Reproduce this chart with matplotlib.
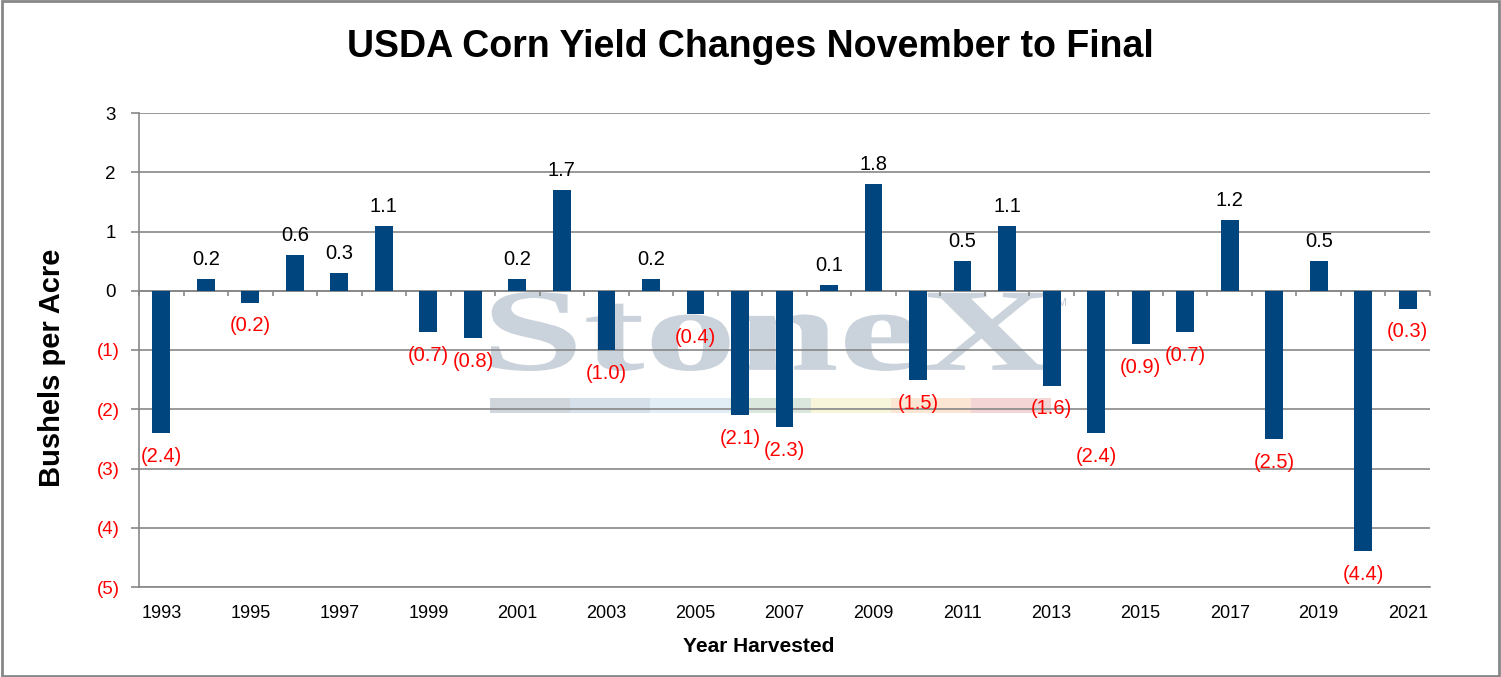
import matplotlib
matplotlib.use("Agg")
import matplotlib.pyplot as plt
import numpy as np
from matplotlib.font_manager import FontProperties
from matplotlib.patches import PathPatch, Rectangle
from matplotlib.textpath import TextPath
from matplotlib.transforms import Affine2D, ScaledTranslation

plt.rcParams["font.family"] = ["Liberation Sans", "DejaVu Sans"]

YEARS = list(range(1993, 2022))
CHANGES = [-2.4, 0.2, -0.2, 0.6, 0.3, 1.1, -0.7, -0.8, 0.2, 1.7,
           -1.0, 0.2, -0.4, -2.1, -2.3, 0.1, 1.8, -1.5, 0.5, 1.1,
           -1.6, -2.4, -0.9, -0.7, 1.2, -2.5, 0.5, -4.4, -0.3]
Y_TICKS = [-5, -4, -3, -2, -1, 0, 1, 2, 3]

BAR = "#00457E"
GRID = "#878787"
NEG = "#FF0000"
MARK = "#CAD2DB"
STRIP = ["#D0D6DC", "#D6E0EA", "#E2EEF6", "#DAE7DC", "#F7F5DA", "#FAE6D3", "#F3D5D5"]

W, H = 1501, 677
AX_L, AX_R, AX_T, AX_B = 139, 1430, 113, 587


def paren(v, fmt):
    return f"({fmt.format(abs(v))})" if v < 0 else fmt.format(v)


def ax_frac(px, py):
    return (px - AX_L) / (AX_R - AX_L), (AX_B - py) / (AX_B - AX_T)


fig = plt.figure(figsize=(W / 100, H / 100), dpi=100)
ax = fig.add_axes([AX_L / W, 1 - AX_B / H, (AX_R - AX_L) / W, (AX_B - AX_T) / H])

x = np.arange(len(YEARS))
ax.bar(x, CHANGES, width=0.4, color=BAR, zorder=3)

ax.set_xlim(-0.5, len(YEARS) - 0.5)
ax.set_ylim(-5, 3)
ax.set_yticks(Y_TICKS)
ax.set_yticklabels([paren(v, "{:d}") for v in Y_TICKS], fontsize=13.5)
ax.yaxis.grid(True, color=GRID, linewidth=1.2, zorder=1)
ax.set_axisbelow(True)
ax.tick_params(axis="y", length=6, width=1.2, color=GRID, pad=8)
# excel-style "_)" alignment: positive labels leave room for the closing paren
shift = ScaledTranslation(-4 / 100, 0, fig.dpi_scale_trans)
for tick, v in zip(ax.yaxis.get_major_ticks(), Y_TICKS):
    tick.label1.set_color(NEG if v < 0 else "black")
    if v >= 0:
        tick.label1.set_transform(tick.label1.get_transform() + shift)

ax.set_xticks(x[::2])
ax.set_xticklabels([str(y) for y in YEARS[::2]], fontsize=13)
ax.tick_params(axis="x", length=0, pad=13)

for side in ("top", "right"):
    ax.spines[side].set_visible(False)
for side in ("left", "bottom"):
    ax.spines[side].set_color(GRID)
    ax.spines[side].set_linewidth(1.2)

# zero line with category tick marks
ax.axhline(0, color=GRID, linewidth=1.2, zorder=2)
bounds = np.arange(len(YEARS) + 1) - 0.5
ax.vlines(bounds, -0.09, 0, color=GRID, linewidth=1.2, zorder=2, clip_on=False)

# data labels
for xi, v in zip(x, CHANGES):
    if v >= 0:
        ax.annotate(paren(v, "{:.1f}"), (xi, v), xytext=(0, 7), textcoords="offset points",
                    ha="center", va="bottom", fontsize=14.5, color="black", zorder=4)
    else:
        ax.annotate(paren(v, "{:.1f}"), (xi, v), xytext=(0, -10), textcoords="offset points",
                    ha="center", va="top", fontsize=14.5, color=NEG, zorder=4)

# StoneX watermark (wide serif, stretched to fit its box)
tp = TextPath((0, 0), "StoneX", size=1, prop=FontProperties(family="Liberation Serif", weight="bold"))
ext = tp.get_extents()
(x0, y0), (x1, y1) = ax_frac(491, 371), ax_frac(1051, 292)
tr = (Affine2D().translate(-ext.x0, -ext.y0)
      .scale((x1 - x0) / ext.width, (y1 - y0) / ext.height)
      .translate(x0, y0) + ax.transAxes)
ax.add_patch(PathPatch(tp, transform=tr, facecolor=MARK, edgecolor="none", zorder=0))
tx, ty = ax_frac(1052, 303)
ax.text(tx, ty, "TM", transform=ax.transAxes, ha="left", va="center", fontsize=8,
        color="#BFC8D2", zorder=0)
(sx0, sy0), (sx1, sy1) = ax_frac(490, 413), ax_frac(1051, 398)
seg_w = (sx1 - sx0) / len(STRIP)
for i, c in enumerate(STRIP):
    ax.add_patch(Rectangle((sx0 + i * seg_w, sy0), seg_w, sy1 - sy0, transform=ax.transAxes,
                           facecolor=c, edgecolor="none", zorder=0))

fig.text(0.5, 1 - 47 / H, "USDA Corn Yield Changes November to Final", ha="center", va="center",
         fontsize=27, fontweight="bold")
fig.text(52 / W, 1 - 368 / H, "Bushels per Acre", ha="center", va="center", rotation=90,
         fontsize=21, fontweight="bold")
fig.text(759 / W, 1 - 647 / H, "Year Harvested", ha="center", va="center",
         fontsize=15, fontweight="bold")

fig.add_artist(Rectangle((0.001, 0.0015), 0.998, 0.997, transform=fig.transFigure,
                         facecolor="none", edgecolor=GRID, linewidth=2))

fig.savefig("out.png", dpi=100)
